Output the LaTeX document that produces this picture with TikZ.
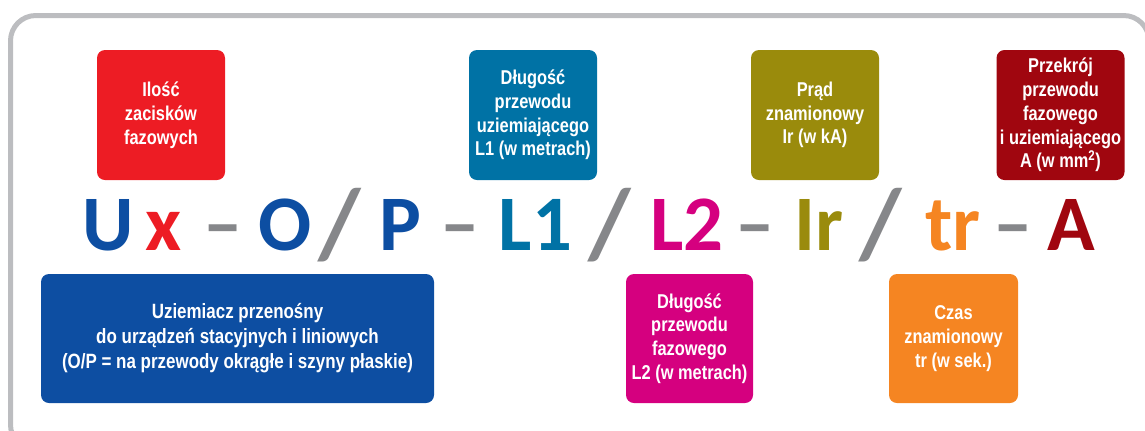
\documentclass[tikz,border=0pt]{standalone}
\usepackage{fontspec}
\setmainfont{Liberation Sans}
\newfontfamily\boxfont[FakeStretch=0.82]{Liberation Sans}
\newfontfamily\codefont{Carlito}
\definecolor{phasered}{HTML}{ED1C24}
\definecolor{lonecol}{HTML}{0072A5}
\definecolor{currolive}{HTML}{9A8B0C}
\definecolor{crossred}{HTML}{A0060F}
\definecolor{typeblue}{HTML}{0D4EA2}
\definecolor{ltwocol}{HTML}{D5007F}
\definecolor{timeorange}{HTML}{F58522}
\definecolor{sepgray}{HTML}{86878A}
\definecolor{framegray}{HTML}{BCBDC0}

\begin{document}
\begin{tikzpicture}[x=0.75pt, y=-0.75pt,
    box/.style={rounded corners=6pt, minimum width=96pt, minimum height=97.5pt,
                inner sep=0pt, align=center, text=white,
                font=\boxfont\bfseries\fontsize{15}{17.8}\selectfont},
    code/.style={anchor=base, inner sep=0pt,
                 font=\codefont\bfseries\fontsize{59}{59}\selectfont},
    sep/.style={code, text=sepgray},
    slash/.style={sep, font=\codefont\bfseries\fontsize{74}{74}\selectfont}
  ]
    \clip (0,0) rectangle (1145,430);

    % Frame
    \draw[framegray, line width=3.75pt, rounded corners=19pt]
      (10.5,15.5) rectangle (1149,450);

    % Upper boxes
    \node[box, fill=phasered] (phases) at (161,115) {Ilość\\zacisków\\fazowych};
    \node[box, fill=lonecol] (lone) at (533,115)
      {Długość\\przewodu\\uziemiającego\\L1 (w metrach)};
    \node[box, fill=currolive] (curr) at (815,115) {Prąd\\znamionowy\\Ir (w kA)};
    \node[box, fill=crossred] (cross) at (1060.5,115)
      {Przekrój\\przewodu\\fazowego\\i uziemiającego\\A (w mm\textsuperscript{2})};

    % Lower boxes
    \node[box, fill=typeblue, minimum width=294.75pt, minimum height=96.75pt,
          font=\boxfont\bfseries\fontsize{15.5}{18.8}\selectfont] (type) at (237.5,338.5)
      {Uziemiacz przenośny\\do urządzeń stacyjnych i liniowych\\(O/P = na przewody okrągłe i szyny płaskie)};
    \node[box, fill=ltwocol, minimum width=95.25pt, minimum height=96.75pt] (ltwo) at (689.5,338.5)
      {Długość\\przewodu\\fazowego\\L2 (w metrach)};
    \node[box, fill=timeorange, minimum width=96.75pt, minimum height=96.75pt] (time) at (953.5,338.5)
      {Czas\\znamionowy\\tr (w sek.)};

    % Code line
    \node[code, text=typeblue] (cU) at (108,250) {U};
    \node[code, text=phasered] (cx) at (164,250) {x};
    \node[sep] (d1) at (223,250) {–};
    \node[code, text=typeblue] (cO) at (285.5,250) {O};
    \node[slash] (s1) at (340,257) {/};
    \node[code, text=typeblue] (cP) at (400.5,250) {P};
    \node[sep] (d2) at (460,250) {–};
    \node[code, text=lonecol] (cL1) at (535.5,250) {L1};
    \node[slash] (s2) at (610,257) {/};
    \node[code, text=ltwocol] (cL2) at (687,250) {L2};
    \node[sep] (d3) at (755,250) {–};
    \node[code, text=currolive] (cIr) at (819,250) {Ir};
    \node[slash] (s3) at (881,257) {/};
    \node[code, text=timeorange] (ctr) at (953,250) {tr};
    \node[sep] (d4) at (1013,250) {–};
    \node[code, text=crossred] (cA) at (1071,250) {A};
  \end{tikzpicture}
\end{document}
